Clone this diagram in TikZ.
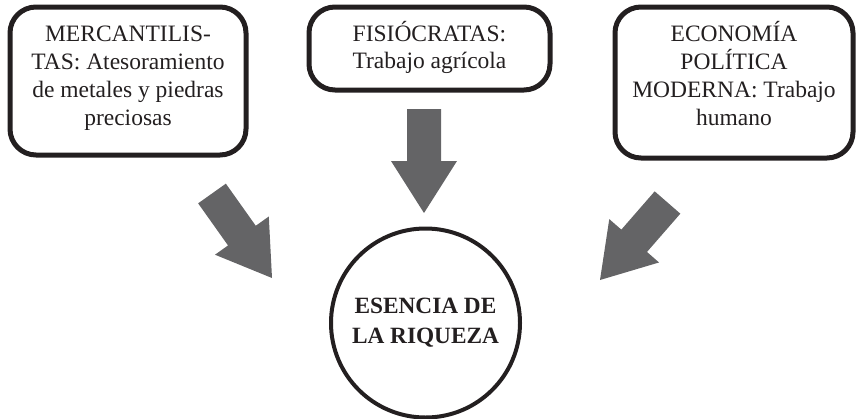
\documentclass[tikz,border=0pt]{standalone}
\usepackage{fontspec}
\setmainfont{Liberation Serif}
\usetikzlibrary{calc}
\definecolor{ink}{HTML}{231F20}
\definecolor{arrowgray}{HTML}{646466}
% text block whose first baseline sits #1/2 above the node centre
\newcommand{\firstbase}[2]{\raisebox{0pt}[0pt][#1]{\begin{tabular}[t]{@{}c@{}}#2\end{tabular}}}
\newcommand{\blockarr}[3]{%
  \coordinate (#3) at ($(#2)!52pt!(#1)$);
  \fill[blockarrow] ($(#1)!17pt!90:(#2)$) -- ($(#3)!17pt!90:(#2)$) -- ($(#3)!33pt!90:(#2)$) -- (#2)
    -- ($(#3)!33pt!-90:(#2)$) -- ($(#3)!17pt!-90:(#2)$) -- ($(#1)!17pt!-90:(#2)$) -- cycle;}
\begin{document}
\begin{tikzpicture}[x=1pt,y=-1pt,
  box/.style={draw=ink, line width=5pt, rounded corners=26pt, align=center,
    font=\fontsize{23.5}{28}\selectfont, text=ink, inner sep=0pt},
  hub/.style={circle, draw=ink, line width=4pt, minimum size=189pt, align=center,
    font=\bfseries\fontsize{23.3}{30}\selectfont, text=ink, inner sep=0pt},
  blockarrow/.style={fill=arrowgray, draw=none}]
\useasboundingbox (0,0) rectangle (856,418);
\node[box, minimum width=236pt, minimum height=148pt] (merc) at (128,81)
  {\firstbase{80pt}{MERCANTILIS-\\TAS: Atesoramiento\\de metales y piedras\\preciosas}};
\node[box, minimum width=241pt, minimum height=83pt, font=\fontsize{23.5}{27.3}\selectfont] (fisio) at (429.5,48.5)
  {\firstbase{15pt}{FISIÓCRATAS:\\Trabajo agrícola}};
\node[box, minimum width=238pt, minimum height=151pt] (econ) at (734,82.5)
  {\firstbase{83pt}{ECONOMÍA\\POLÍTICA\\MODERNA: Trabajo\\humano}};
\node[hub] (core) at (425.5,323) {\firstbase{20pt}{ESENCIA DE\\LA RIQUEZA}};
\coordinate (mercA) at (212,193.5);
\coordinate (mercB) at (272,278);
\coordinate (fisioA) at (424,109);
\coordinate (fisioB) at (424,213);
\coordinate (econA) at (667.5,202.5);
\coordinate (econB) at (600,280);
\blockarr{mercA}{mercB}{mercH}
\blockarr{fisioA}{fisioB}{fisioH}
\blockarr{econA}{econB}{econH}
\end{tikzpicture}
\end{document}
